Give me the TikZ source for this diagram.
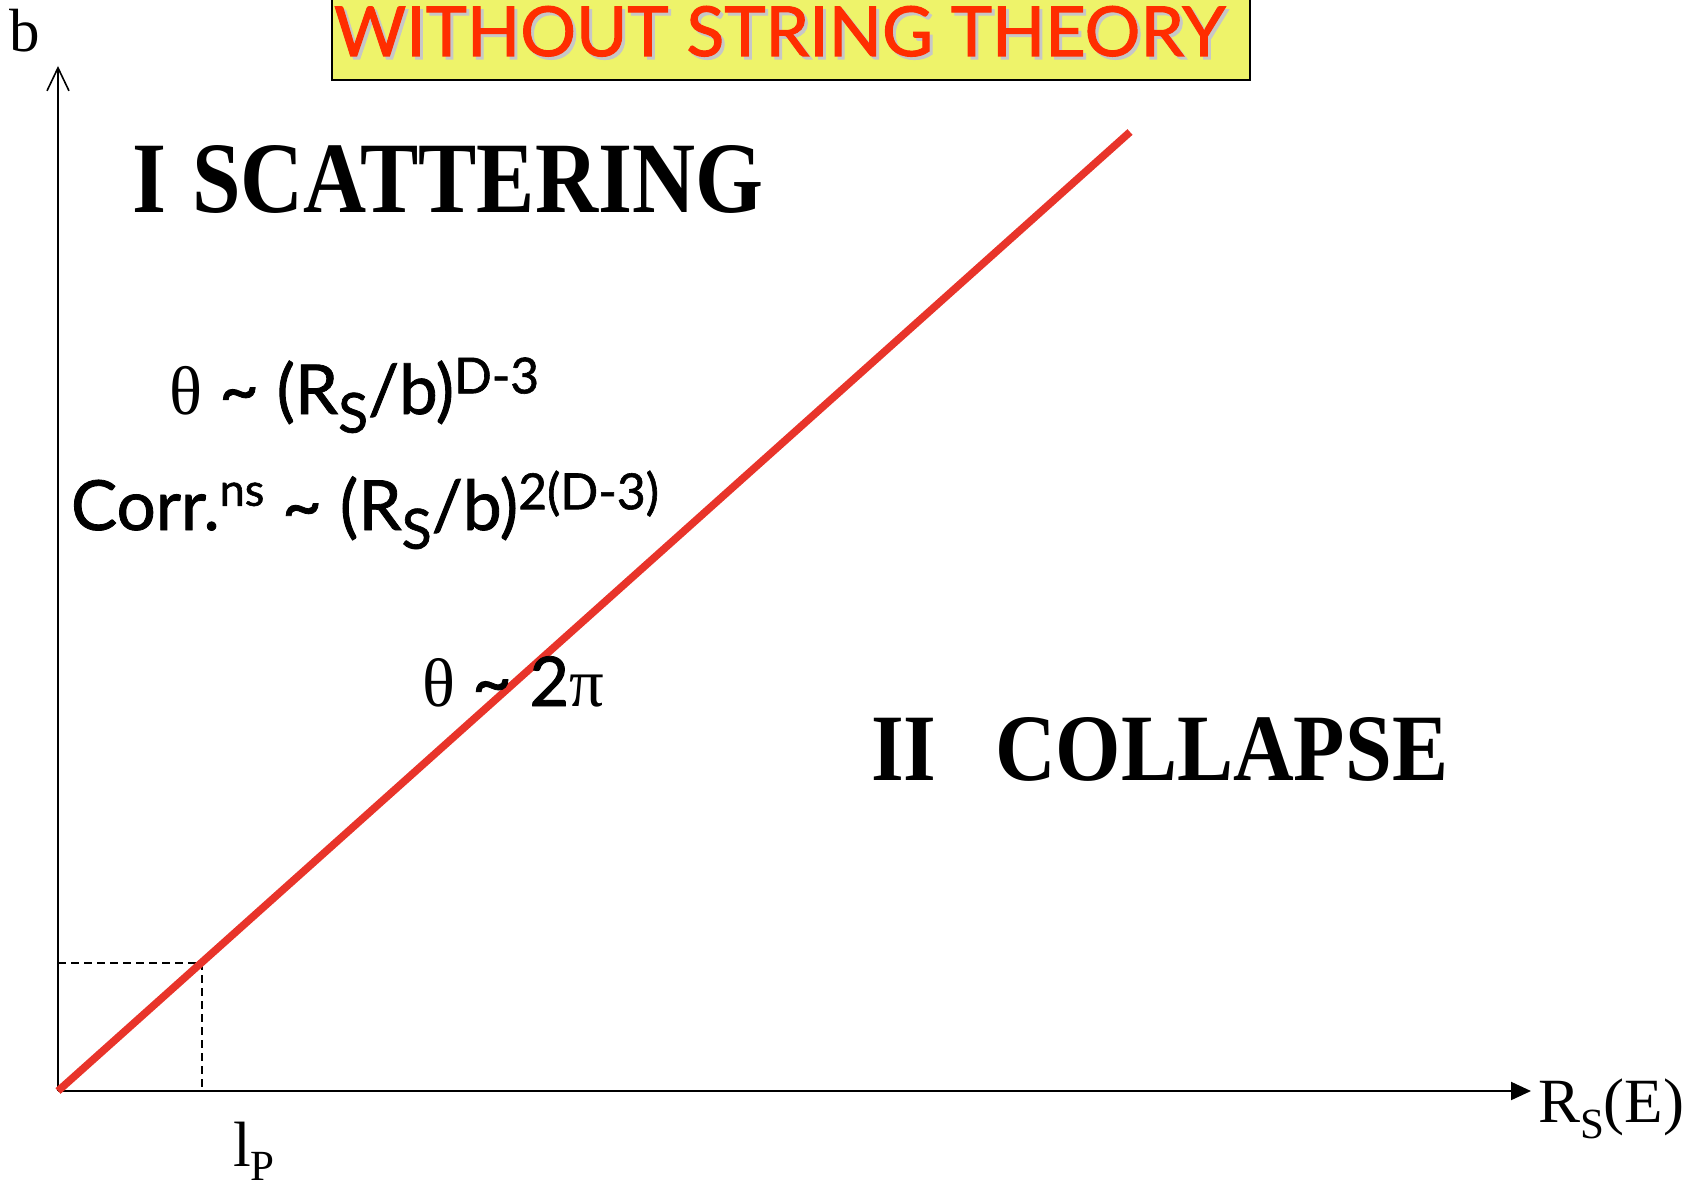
\documentclass[tikz,border=0pt]{standalone}
\usepackage{graphicx}
\usepackage{fontspec}
\setmainfont{Liberation Serif}
\newfontfamily\comic{Lato}[FakeBold=1.2]
\newfontfamily\comictitle{Lato}[FakeBold=1.5]
\usetikzlibrary{arrows.meta}
\definecolor{lred}{RGB}{232,52,42}
\definecolor{ttlyellow}{RGB}{238,243,106}
\definecolor{ttlred}{RGB}{255,45,0}
\newcommand\fs[1]{\fontsize{#1}{#1}\selectfont}
\newcommand\upx[1]{\raisebox{0.3em}{\scalebox{0.72}{#1}}}
\newcommand\dnx[1]{\raisebox{-0.27em}{\scalebox{0.8}{#1}}}
\tikzset{
  lbl/.style={inner sep=0pt, outer sep=0pt, anchor=base west},
  axis/.style={line width=1pt, black},
  guide/.style={line width=0.75pt, black, dash pattern=on 4pt off 2.5pt},
  boundary/.style={line width=3.8pt, lred},
}
\begin{document}
\begin{tikzpicture}[x=0.5pt, y=-0.5pt]
\useasboundingbox (0,0) rectangle (1707,1192);
% title box
\path[draw=black, line width=1pt, fill=ttlyellow] (332,-10) rectangle (1250,80);
\node[lbl, text=black!22] (titleshadow) at (337,59) {\resizebox{445.5pt}{25pt}{\comictitle WITHOUT STRING THEORY}};
\node[lbl, text=ttlred] (title) at (334,56) {\resizebox{445.5pt}{25pt}{\comictitle WITHOUT STRING THEORY}};
% axes
\coordinate (O) at (58,1091);
\coordinate (ytop) at (58,66);
\coordinate (xend) at (1531,1091);
\draw[axis, -{Straight Barb[length=11.5pt, width=11pt, line width=0.8pt]}] (O) -- (ytop);
\draw[axis, -{Triangle[length=10pt, width=9pt]}] (O) -- (xend);
% planck guides
\coordinate (P) at (202,963);
\coordinate (Py) at (58,963);
\coordinate (Px) at (202,1091);
\draw[guide] (Py) -- (P) -- (Px);
% boundary line
\coordinate (Lend) at (1130,132);
\draw[boundary] (O) -- (Lend);
% axis labels
\node[lbl] (blab) at (10,52) {\fs{30.5}b};
\node[lbl] (lp) at (233,1166) {\fs{32}l\raisebox{-7pt}{\fs{21.5}P}};
\node[lbl] (rs) at (1538,1122) {\fs{31.5}R\raisebox{-8pt}{\fs{21.5}S}(E)};
% region labels
\node[lbl] (scat) at (132,213) {\resizebox{315.5pt}{33.5pt}{\bfseries I\hspace{0.3em}SCATTERING}};
\node[lbl] (coll) at (871,780) {\resizebox{288.5pt}{31.5pt}{\bfseries II\hspace{0.7em}COLLAPSE}};
% formulas
\node[lbl] (f1) at (169,414) {\resizebox{185pt}{!}{\fs{28}θ\ {\comic\textasciitilde\ (R\dnx{S}/b)\upx{D-3}}}};
\node[lbl] (f2) at (71,530) {\resizebox{294pt}{!}{\fs{28}\comic Corr.\raisebox{0.35em}{\scalebox{0.65}{ns}}\ \textasciitilde\ (R\dnx{S}/b)\upx{2(D-3)}}};
\node[lbl] (f3) at (422,706) {\resizebox{91pt}{!}{\fs{28}θ\ {\comic\textasciitilde\ 2}π}};
\end{tikzpicture}
\end{document}
